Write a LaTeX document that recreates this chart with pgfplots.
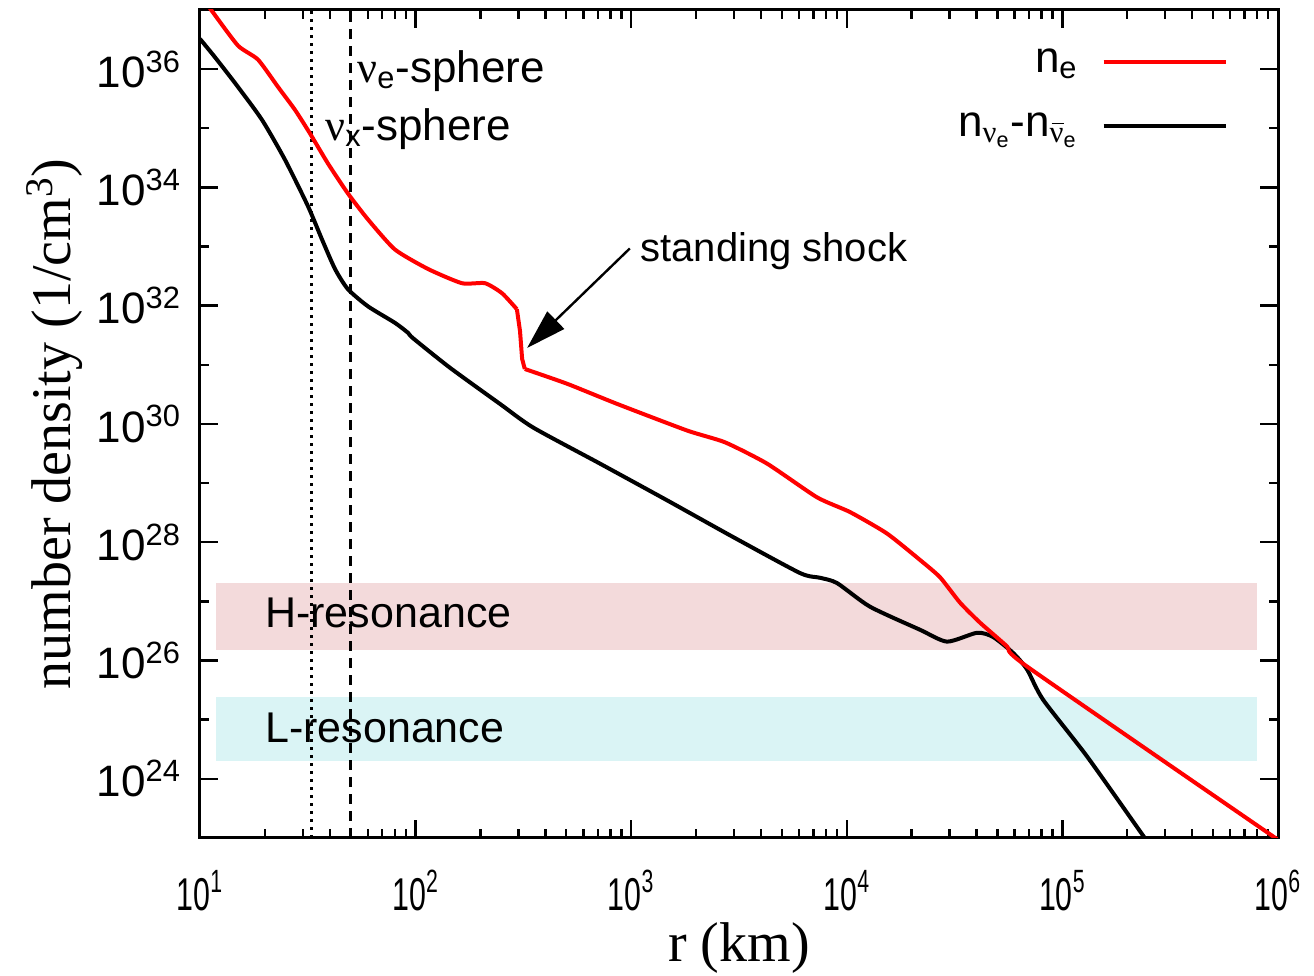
\documentclass[border=0pt]{standalone}
\usepackage{fontspec}
\setmainfont{Liberation Sans}
\newfontfamily\serif{Liberation Serif}
\newfontfamily\narrow[FakeStretch=0.66]{Liberation Sans}
\usepackage{pgfplots}
\usepackage{pgfplotstable}
\pgfplotsset{compat=1.18}
\usetikzlibrary{arrows.meta}
\definecolor{hband}{RGB}{243,218,219}
\definecolor{lband}{RGB}{218,244,245}
\newcommand{\gnu}{{\serif ν}}
\newcommand{\nubar}{\makebox[0pt][l]{\hspace{0.06em}\raisebox{0.6em}{\rule{0.42em}{0.06em}}}\gnu}

\pgfplotstableread{
r n
11.1 1.07e37
11.48 9.12e36
15.0 2.50e36
18.58 1.45e36
23.0 5.01e35
27.6 2.04e35
32.4 8.13e34
39.3 2.51e34
48.5 7.94e33
60.1 2.88e33
80.2 8.91e32
114.3 4.17e32
164 2.40e32
210 2.40e32
252 1.62e32
295 8.71e31
}\redtabA

\pgfplotstableread{
r n
295 8.71e31
305 3.72e31
312 1.26e31
321 8.51e30
}\redtabB

\pgfplotstableread{
r n
321 8.51e30
504 4.79e30
859 2.19e30
1816 7.76e29
2723 4.90e29
4266 2.14e29
7278 5.75e28
10351 3.24e28
15346 1.41e28
21878 5.01e27
27040 2.57e27
33497 9.55e26
41500 4.37e26
55335 1.74e26
68549 7.94e25
1000000 9.33e22
}\redtabC

\pgfplotstableread{
r n
10 3.24e36
11.75 1.58e36
15.0 5.01e35
19.41 1.38e35
24.77 2.95e34
31.7 4.79e33
36.8 1.32e33
42.3 4.17e32
48.5 1.91e32
60.1 9.77e31
80.2 5.13e31
92.3 3.47e31
97.3 2.82e31
144.5 8.91e30
246 2.19e30
351 8.71e29
716 2.14e29
1466 5.13e28
2965 1.23e28
6067 3.02e27
7516 2.51e27
9016 2.04e27
12823 8.13e26
21878 3.31e26
29174 2.09e26
40179 2.95e26
47643 2.51e26
59020 1.35e26
68549 7.08e25
81283 2.19e25
130017 2.40e24
236592 1.10e23
281838 4.47e22
}\blacktab

\begin{document}
\begin{tikzpicture}
\begin{axis}[
  name=ax,
  scale only axis, width=539pt, height=414pt,
  xmode=log, ymode=log,
  xmin=10, xmax=1e6, ymin=1e23, ymax=1e37,
  axis line style={line width=1.5pt},
  every tick/.style={line width=1.2pt, black},
  major tick length=9pt, minor tick length=4.5pt,
  tick align=inside,
  xtick={10,100,1000,10000,100000,1000000},
  xticklabels={10\textsuperscript{1},10\textsuperscript{2},10\textsuperscript{3},10\textsuperscript{4},10\textsuperscript{5},10\textsuperscript{6}},
  minor xtick={20,30,40,50,60,70,80,90,200,300,400,500,600,700,800,900,2000,3000,4000,5000,6000,7000,8000,9000,2e4,3e4,4e4,5e4,6e4,7e4,8e4,9e4,2e5,3e5,4e5,5e5,6e5,7e5,8e5,9e5},
  ytick={1e24,1e26,1e28,1e30,1e32,1e34,1e36},
  yticklabels={10\textsuperscript{24},10\textsuperscript{26},10\textsuperscript{28},10\textsuperscript{30},10\textsuperscript{32},10\textsuperscript{34},10\textsuperscript{36}},
  minor ytick={1e25,1e27,1e29,1e31,1e33,1e35},
  xticklabel style={font=\narrow\fontsize{23}{24}\selectfont, anchor=north, inner sep=0pt, yshift=-16pt},
  yticklabel style={font=\fontsize{22}{24}\selectfont, xshift=-6pt},
  xlabel={r (km)},
  ylabel={number density (1/cm\textsuperscript{3})},
  label style={font=\serif\fontsize{28}{32}\selectfont},
  xlabel style={at={(axis description cs:0.5,0)}, anchor=base, inner sep=0pt, yshift=-62pt},
  legend style={draw=none, fill=none, at={(1,1)}, anchor=north east, xshift=-22pt, yshift=-15pt,
    font=\fontsize{22}{25}\selectfont, row sep=15pt,
    /tikz/every odd column/.append style={column sep=10pt}},
  legend cell align=right,
  legend plot pos=right,
  legend image code/.code={\draw[#1] (0pt,0pt) -- (61pt,0pt);},
]
\addplot[fill=hband, draw=none, forget plot] coordinates {(11.86,1.53e26) (8.0e5,1.53e26) (8.0e5,2.04e27) (11.86,2.04e27)} -- cycle;
\addplot[fill=lband, draw=none, forget plot] coordinates {(11.86,2.0e24) (8.0e5,2.0e24) (8.0e5,2.38e25) (11.86,2.38e25)} -- cycle;
\addplot[black, line width=1.5pt, dash pattern=on 1.5pt off 2.5pt, forget plot] coordinates {(33,1e23) (33,1e37)};
\addplot[black, line width=1.2pt, dash pattern=on 5pt off 3.5pt, forget plot] coordinates {(50,1e23) (50,1e37)};
\addplot[red, line width=2pt, line join=round, smooth, tension=0.35] table[x=r, y=n] {\redtabA};
\addlegendentry{n\textsubscript{e}}
\addplot[black, line width=2pt, line join=round, smooth, tension=0.4] table[x=r, y=n] {\blacktab};
\addlegendentry{n\textsubscript{\gnu\textsubscript{e}}-n\textsubscript{\nubar\textsubscript{e}}}
\addplot[red, line width=2pt, line join=round, forget plot] table[x=r, y=n] {\redtabB};
\addplot[red, line width=2pt, line join=round, smooth, tension=0.35, forget plot] table[x=r, y=n] {\redtabC};
\node[anchor=base west, inner sep=0pt, font=\fontsize{22}{25}\selectfont] at (axis cs:53.5,6.0e35) {\gnu\textsubscript{e}-sphere};
\node[anchor=base west, inner sep=0pt, font=\fontsize{22}{25}\selectfont] at (axis cs:38.0,6.3e34) {\gnu\textsubscript{x}-sphere};
\node[anchor=base west, inner sep=0pt, font=\fontsize{20}{24}\selectfont] at (axis cs:1099,5.6e32) {standing shock};
\node[anchor=base west, inner sep=0pt, font=\fontsize{21.5}{25}\selectfont] at (axis cs:20.0,3.6e26) {H-resonance};
\node[anchor=base west, inner sep=0pt, font=\fontsize{21.5}{25}\selectfont] at (axis cs:20.0,4.17e24) {L-resonance};
\draw[line width=1.2pt, -{Triangle[length=20pt,width=12pt]}] (axis cs:986,9.3e32) -- (axis cs:329,1.93e31);
\end{axis}
\pgfresetboundingbox
\path ([shift={(-100pt,-69pt)}]ax.south west) rectangle ([shift={(18pt,5pt)}]ax.north east);
\end{tikzpicture}
\end{document}
